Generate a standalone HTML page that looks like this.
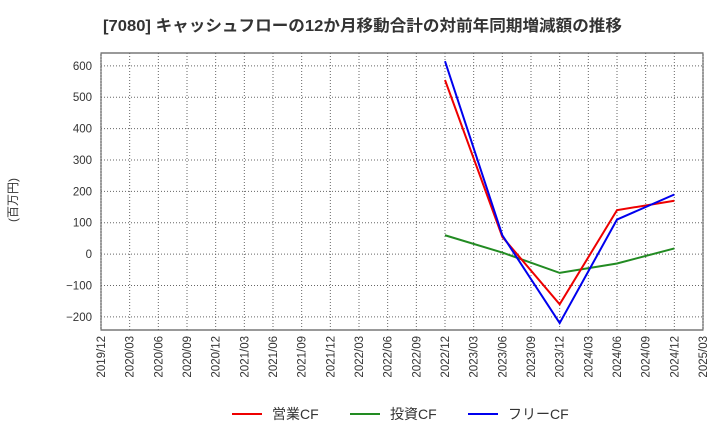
<!DOCTYPE html>
<html><head><meta charset="utf-8"><style>
body{margin:0;background:#fff;font-family:"Liberation Sans","Noto Sans CJK JP",sans-serif;}
svg text{font-family:"Liberation Sans","Noto Sans CJK JP",sans-serif;}
</style></head><body>
<svg width="720" height="440" viewBox="0 0 720 440">
<text x="103" y="31" font-size="16" font-weight="bold" fill="#333" textLength="519" lengthAdjust="spacingAndGlyphs">[7080]  キャッシュフローの12か月移動合計の対前年同期増減額の推移</text>
<text x="17" y="200" font-size="12" fill="#333" text-anchor="middle" transform="rotate(-90 17 200)">(百万円)</text>
<g id="grid"></g><g id="axes"></g><g id="series"></g>
<g>
<line x1="232" y1="414" x2="262" y2="414" stroke="#e00" stroke-width="2"/><text x="272" y="419" font-size="14" fill="#333">営業CF</text>
<line x1="350" y1="414" x2="380" y2="414" stroke="#228b22" stroke-width="2"/><text x="390" y="419" font-size="14" fill="#333">投資CF</text>
<line x1="468" y1="414" x2="498" y2="414" stroke="#00e" stroke-width="2"/><text x="508" y="419" font-size="14" fill="#333">フリーCF</text>
</g>
</svg>
<script>
const categories=["2019/12","2020/03","2020/06","2020/09","2020/12","2021/03","2021/06","2021/09","2021/12","2022/03","2022/06","2022/09","2022/12","2023/03","2023/06","2023/09","2023/12","2024/03","2024/06","2024/09","2024/12","2025/03"];
const yTicks=[-200,-100,0,100,200,300,400,500,600];
const seriesCats=["2022/12","2023/06","2023/12","2024/06","2024/12"];
const operatingCF=[555,55,-160,140,170];
const investingCF=[60,5,-60,-30,18];
const freeCF=[615,60,-220,110,190];
const NS="http://www.w3.org/2000/svg";
const L=101,R=703,T=53,B=330,ymin=-242,ymax=641;
const xs=i=>L+(R-L)*i/(categories.length-1);
const ys=v=>B-(v-ymin)/(ymax-ymin)*(B-T);
function mk(t,a,p){const e=document.createElementNS(NS,t);for(const k in a)e.setAttribute(k,a[k]);p.appendChild(e);return e;}
const g=document.getElementById('grid'),ax=document.getElementById('axes'),sg=document.getElementById('series');
mk('rect',{x:L,y:T,width:R-L,height:B-T,fill:'#fff',stroke:'#333','stroke-width':1},g);
categories.forEach((c,i)=>{const x=xs(i);
 const ln=mk('line',{x1:x,y1:T,x2:x,y2:B,stroke:'#666','stroke-dasharray':'1,2'},g);
 
 
 const t=mk('text',{x:x+4,y:B+6,'font-size':11.5,fill:'#333','text-anchor':'end',transform:`rotate(-90 ${x+4} ${B+6})`},ax);
 t.textContent=c;
 
 
});
yTicks.forEach(v=>{const y=ys(v);
 const ln=mk('line',{x1:L,y1:y,x2:R,y2:y,stroke:'#666','stroke-dasharray':'1,2'},g);
 
 
 const t=mk('text',{x:L-9,y:y+4,'font-size':11.5,fill:'#333','text-anchor':'end'},ax);
 t.textContent=v<0?'\u2212'+(-v):v;
 
 
});
function line(data,color,name){
 const pts=data.map((v,i)=>xs(categories.indexOf(seriesCats[i]))+','+ys(v)).join(' ');
 const p=mk('polyline',{points:pts,fill:'none',stroke:color,'stroke-width':2},sg);
 
 
}
line(investingCF,'#228b22','investing-cf-line');
line(operatingCF,'#e00','operating-cf-line');
line(freeCF,'#00e','free-cf-line');
</script>
</body></html>
